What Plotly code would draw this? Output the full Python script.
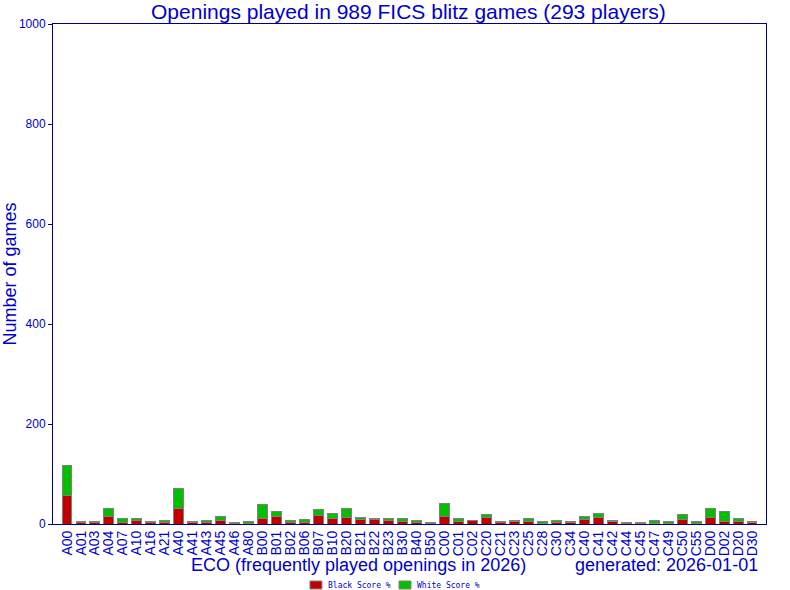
import plotly.graph_objects as go

eco_codes = [
    "A00", "A01", "A03", "A04", "A07", "A10", "A16", "A21", "A40", "A41",
    "A43", "A45", "A46", "A80", "B00", "B01", "B02", "B06", "B07", "B10",
    "B20", "B21", "B22", "B23", "B30", "B40", "B50", "C00", "C01", "C02",
    "C20", "C21", "C23", "C25", "C28", "C30", "C34", "C40", "C41", "C42",
    "C44", "C45", "C47", "C49", "C50", "C55", "D00", "D02", "D20", "D30",
]
black_games = [
    57, 3, 3, 15, 3, 7, 3, 3, 31, 3,
    3, 7, 2, 2, 11, 15, 3, 3, 17, 11,
    13, 9, 9, 7, 5, 3, 1, 15, 5, 7,
    13, 3, 5, 5, 2, 3, 3, 9, 13, 5,
    2, 2, 2, 2, 9, 2, 13, 5, 5, 3,
]
total_games = [
    118, 6, 6, 31, 11, 11, 6, 8, 71, 6,
    8, 15, 4, 6, 39, 25, 8, 10, 29, 21,
    31, 13, 11, 11, 11, 8, 4, 42, 11, 8,
    19, 6, 8, 11, 6, 8, 6, 15, 21, 8,
    4, 4, 8, 6, 19, 6, 31, 25, 11, 6,
]
white_games = [t - b for t, b in zip(total_games, black_games)]
y_ticks = [0, 200, 400, 600, 800, 1000]
legend_names = ["Black Score %", "White Score %"]

BLUE = "#0000CC"
NAVY = "#000080"
RED = "#C00000"
GREEN = "#00C000"
GREY = "#808080"

fig = go.Figure()
fig.add_trace(go.Bar(x=eco_codes, y=black_games, name=legend_names[0],
                     marker=dict(color=RED, line=dict(color=GREY, width=1))))
fig.add_trace(go.Bar(x=eco_codes, y=white_games, name=legend_names[1],
                     marker=dict(color=GREEN, line=dict(color=GREY, width=1))))

# small legend drawn by hand so it sits tight like the original
legend_shapes = []
legend_notes = []
for name, colour, x0, tx in [(legend_names[0], RED, 0.3604, 0.3829),
                             (legend_names[1], GREEN, 0.4853, 0.5077)]:
  legend_shapes.append(
      dict(type="rect", xref="paper", yref="paper", x0=x0, x1=x0 + 0.0168,
           y0=-0.13, y1=-0.114, fillcolor=colour,
           line=dict(color=GREY, width=1)))
  legend_notes.append(
      dict(text=name, xref="paper", yref="paper", x=tx, y=-0.122,
           xanchor="left", yanchor="middle", showarrow=False,
           font=dict(family="DejaVu Sans Mono", size=8, color=BLUE)))

fig.update_layout(
    barmode="stack",
    bargap=0.29,
    width=790,
    height=590,
    margin=dict(l=53, r=24, t=24, b=66, autoexpand=False),
    paper_bgcolor="white",
    plot_bgcolor="white",
    font=dict(family="Liberation Sans, Arial, sans-serif", color=BLUE),
    title=dict(text="Openings played in 989 FICS blitz games (293 players)",
               x=0.517, xanchor="center", y=0.9805, yanchor="middle",
               font=dict(size=21, color=BLUE)),
    showlegend=False,
    xaxis=dict(tickangle=-90, tickfont=dict(size=14, color=BLUE),
               tickmode="array", tickvals=eco_codes, ticktext=eco_codes,
               range=[-1, len(eco_codes)], automargin=False,
               showline=True, linecolor=NAVY, linewidth=1, mirror=True,
               ticks="", showgrid=False),
    yaxis=dict(range=[0, 1000], tickvals=y_ticks, automargin=False,
               tickfont=dict(size=12, color=BLUE),
               showline=True, linecolor=NAVY, linewidth=1, mirror=True,
               ticks="outside", ticklen=4, tickcolor=NAVY, showgrid=False),
    shapes=legend_shapes,
    annotations=[
        dict(text="Number of games", textangle=-90,
             xref="paper", yref="paper", x=-0.061, y=0.5,
             xanchor="center", yanchor="middle", showarrow=False,
             font=dict(size=18, color=BLUE)),
        dict(text="ECO (frequently played openings in 2026)",
             xref="paper", yref="paper", x=0.4285, y=-0.082,
             xanchor="center", yanchor="middle", showarrow=False,
             font=dict(size=18, color=BLUE)),
        dict(text="generated: 2026-01-01",
             xref="paper", yref="paper", x=0.861, y=-0.082,
             xanchor="center", yanchor="middle", showarrow=False,
             font=dict(size=18, color=BLUE)),
    ] + legend_notes,
)

# drop the default 8px page margin so the figure fills the window
fig.write_html("out.html",
               config={"displayModeBar": False},
               post_script="document.body.style.margin = '0px';")
